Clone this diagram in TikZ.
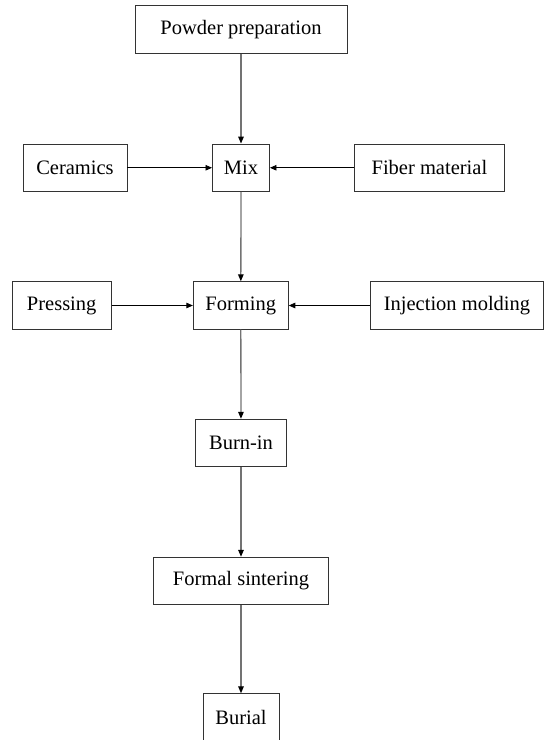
\documentclass[tikz,border=0pt]{standalone}
\usepackage{fontspec}
\setmainfont{Liberation Serif}
\usetikzlibrary{arrows.meta}
\begin{document}
\begin{tikzpicture}[x=1pt,y=-1pt,
  box/.style={draw=black!80, line width=0.9pt, fill=white, inner sep=0pt,
    minimum height=47.5pt, font=\fontsize{20.5}{24}\selectfont},
  vline/.style={draw=black!55, line width=1.3pt, -{Triangle[length=7pt,width=5.5pt,color=black]}},
  hline/.style={draw=black, line width=0.8pt, -{Triangle[length=6.5pt,width=5.5pt]}}]
\useasboundingbox (0,0) rectangle (544,740);
\node[box, minimum width=212pt] (pp) at (241,29.5) {Powder preparation};
\node[box, minimum width=104pt] (cer) at (75,167.75) {Ceramics};
\node[box, minimum width=57pt] (mix) at (241,167.75) {Mix};
\node[box, minimum width=149.5pt] (fib) at (429.4,167.75) {Fiber material};
\node[box, minimum width=99pt] (press) at (61.7,305.5) {Pressing};
\node[box, minimum width=95pt] (form) at (240.8,305.5) {Forming};
\node[box, minimum width=173pt] (inj) at (457,305.5) {Injection molding};
\node[box, minimum width=91.5pt] (burn) at (241,443) {Burn-in};
\node[box, minimum width=174.5pt] (sint) at (241,581) {Formal sintering};
\node[box, minimum width=76pt] (bur) at (241,717.5) {Burial};
\draw[vline] (pp) -- (mix);
\draw[hline] (cer) -- (mix);
\draw[hline] (fib) -- (mix);
\draw[vline] (mix) -- (form);
\draw[hline] (press) -- (form);
\draw[hline] (inj) -- (form);
\draw[vline] (form) -- (burn);
\draw[vline] (burn) -- (sint);
\draw[vline] (sint) -- (bur);
\end{tikzpicture}
\end{document}
